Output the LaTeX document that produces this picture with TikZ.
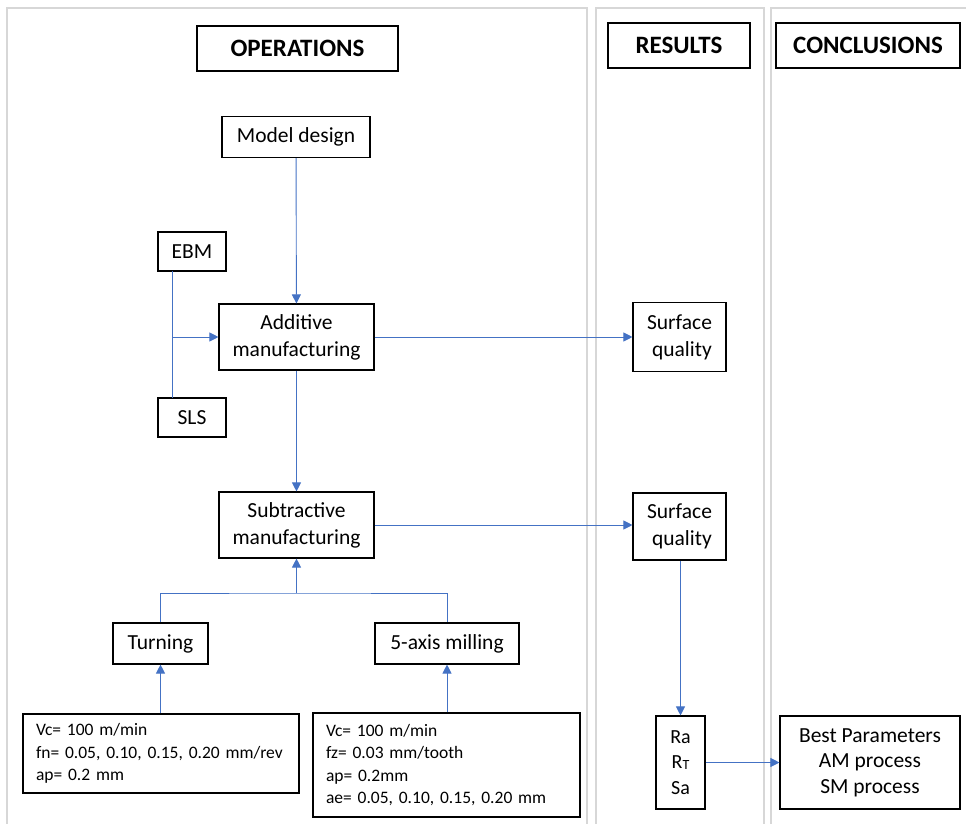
\documentclass[tikz,border=0pt]{standalone}
\usepackage{fontspec}
\setmainfont{Carlito}
\usetikzlibrary{arrows.meta,calc}
\definecolor{conn}{RGB}{68,114,196}
\definecolor{panel}{RGB}{215,215,215}
\begin{document}
\begin{tikzpicture}[x=1pt,y=-1pt,
  box/.style={draw=black,line width=1.1pt,fill=white,inner sep=0pt,align=center,font=\fontsize{21.5}{27}\selectfont},
  head/.style={box,font=\fontsize{25}{28}\selectfont\bfseries},
  pbox/.style={box,align=left,font=\fontsize{17.5}{22.5}\selectfont},
  link/.style={conn,line width=0.9pt},
  arr/.style={link,-{Triangle[length=9pt,width=9pt]}},
  pane/.style={draw=panel,line width=1.6pt}]
\useasboundingbox (0,0) rectangle (966,824);
\draw[pane] (7,8) rectangle (587,830);
\draw[pane] (596,8) rectangle (764,830);
\draw[pane] (771,8) rectangle (969,830);

\node[head,minimum width=201pt,minimum height=45pt] (ops) at (297.5,48.5) {OPERATIONS};
\node[head,minimum width=142pt,minimum height=45pt] (res) at (679,45.5) {RESULTS};
\node[head,minimum width=184pt,minimum height=45pt] (conc) at (868,45.5) {CONCLUSIONS};

\node[box,minimum width=148pt,minimum height=41pt] (model) at (296,137) {Model design};
\node[box,minimum width=68pt,minimum height=39pt] (ebm) at (192,251.5) {EBM};
\node[box,minimum width=155pt,minimum height=66pt] (add) at (296.5,337) {Additive\\manufacturing};
\node[box,minimum width=68pt,minimum height=39pt] (sls) at (192,417.5) {SLS};
\node[box,minimum width=93pt,minimum height=69pt] (sq1) at (679.5,337) {Surface\\\ quality};
\node[box,minimum width=155pt,minimum height=66pt] (sub) at (296.5,525) {Subtractive\\manufacturing};
\node[box,minimum width=93pt,minimum height=67pt] (sq2) at (679.5,526.5) {Surface\\\ quality};
\node[box,minimum width=95pt,minimum height=41pt] (turn) at (160.5,643.5) {Turning};
\node[box,minimum width=144pt,minimum height=41pt] (mill) at (447,643.5) {5-axis milling};
\node[pbox,minimum width=276pt,minimum height=79pt,text width=250pt] (p1) at (161,753.5) {Vc= 100 m/min\\fn= 0.05, 0.10, 0.15, 0.20 mm/rev\\ap= 0.2 mm};
\node[pbox,minimum width=267pt,minimum height=104pt,text width=241pt] (p2) at (446.5,765) {Vc= 100 m/min\\fz= 0.03 mm/tooth\\ap= 0.2mm\\ae= 0.05, 0.10, 0.15, 0.20 mm};
\node[box,minimum width=49pt,minimum height=93pt,font=\fontsize{20}{25.5}\selectfont] (ra) at (680.5,762.5) {Ra\\R\raisebox{-1pt}{\fontsize{14}{14}\selectfont T}\\Sa};
\node[box,minimum width=180pt,minimum height=93pt,font=\fontsize{21.5}{25.5}\selectfont] (best) at (870,762.5) {Best Parameters\\AM process\\SM process};

\coordinate (ebmb) at (172,271);
\coordinate (slst) at (172,398);
\coordinate (j1) at (172,337);
\coordinate (j2) at (296.5,593);

\draw[arr] (model) -- (add);
\draw[link] (ebmb) -- (slst);
\draw[arr] (j1) -- (add.west);
\draw[arr] (add.east) -- (add.east -| sq1.west);
\draw[arr] (add) -- (sub);
\draw[arr] (sub.east) -- (sub.east -| sq2.west);
\draw[link] (turn.north) |- (j2) -| (mill.north);
\draw[arr] (j2) -- (sub.south);
\draw[arr] (p1.north -| turn) -- (turn.south);
\draw[arr] (p2.north -| mill) -- (mill.south);
\draw[arr] (sq2.south -| ra) -- (ra.north);
\draw[arr] (ra.east) -- (best.west);
\end{tikzpicture}
\end{document}
